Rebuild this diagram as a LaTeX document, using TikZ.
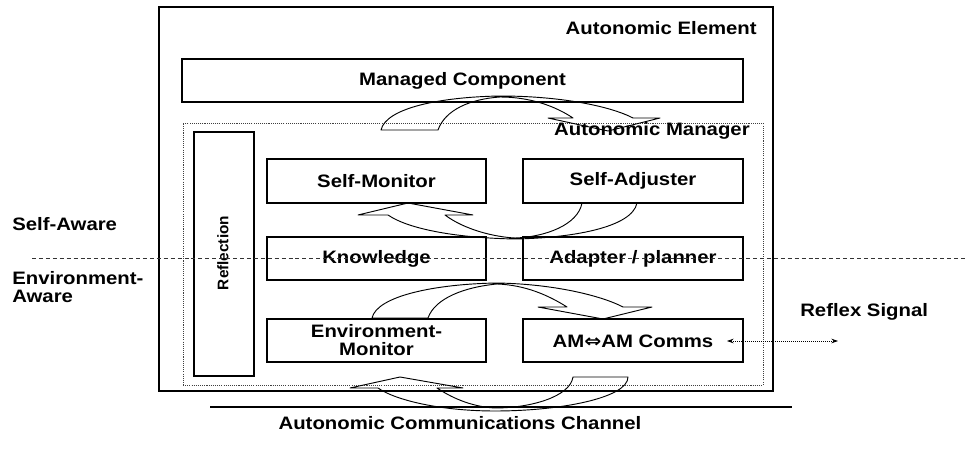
\documentclass[tikz,border=0pt]{standalone}
\usepackage{fontspec}
\setmainfont{Liberation Sans}
\newfontfamily\symfont{DejaVu Sans}
\usetikzlibrary{arrows.meta}
\begin{document}
\begin{tikzpicture}[x=0.75pt,y=-0.75pt,
  lbl/.style={font=\bfseries\fontsize{13.5}{13.5}\selectfont, inner sep=0pt, xscale=1.13},
  box/.style={draw=black, line width=1pt, inner sep=0pt, rectangle},
  dotbox/.style={draw=black!75, line width=0.6pt, dash pattern=on 0.8pt off 0.8pt, inner sep=0pt, rectangle},
  blockarrow/.style={draw=black, line width=0.7pt, line join=round},
  sepline/.style={draw=black!80, line width=0.7pt, dash pattern=on 3pt off 2.2pt},
  chline/.style={draw=black, line width=1pt},
  reflex/.style={draw=black, line width=0.6pt, dash pattern=on 0.9pt off 0.6pt, {Stealth[length=5pt,width=3.5pt]}-{Stealth[length=5pt,width=3.5pt]}}
]
\useasboundingbox (0,0) rectangle (972,449);
\fill[white] (0,0) rectangle (972,449);

% outer element
\node[box, minimum width=460.5pt, minimum height=288pt] (ae) at (466,199) {};
\node[lbl, anchor=east] (aet) at (757,28) {Autonomic Element};

% managed component
\node[box, minimum width=420.75pt, minimum height=32.25pt] (mc) at (462.5,80.5) {};
\node[lbl] (mct) at (mc.center) {Managed Component};

% autonomic manager
\node[dotbox, minimum width=435pt, minimum height=196.5pt] (am) at (473,254) {};
\node[lbl, anchor=east] (amt) at (750,131) {Autonomic Manager};

% reflection
\node[box, minimum width=45pt, minimum height=183pt] (rf) at (224,254) {};
\node[font=\bfseries\fontsize{11.5}{12}\selectfont, inner sep=0pt, rotate=90] (rft) at (223,253) {Reflection};

% inner boxes
\node[box, minimum width=164.25pt, minimum height=33pt] (sm) at (376.5,181) {};
\node[lbl] (smt) at (sm.center) {Self-Monitor};
\node[box, minimum width=165pt, minimum height=33pt] (sa) at (633,181) {};
\node[lbl] (sat) at (sa.center) {Self-Adjuster};
\node[box, minimum width=164.25pt, minimum height=32.25pt] (kn) at (376.5,258.5) {};
\node[lbl] (knt) at (kn.center) {Knowledge};
\node[box, minimum width=165pt, minimum height=32.25pt] (ap) at (633,258.5) {};
\node[lbl] (apt) at (ap.center) {Adapter / planner};
\node[box, minimum width=164.25pt, minimum height=32.25pt] (em) at (376.5,340.5) {};
\node[lbl, align=center] (emt) at (em.center) {Environment-\\Monitor};
\node[box, minimum width=165pt, minimum height=32.25pt] (cm) at (633,340.5) {};
\node[lbl] (cmt) at (633,341) {AM{\symfont\bfseries ⇔}AM Comms};

% side labels
\node[lbl, anchor=west] (saw) at (12,224) {Self-Aware};
\node[lbl, anchor=north west, align=left] (eaw) at (12,271) {Environment-\\Aware};
\node[lbl, anchor=west] (rs) at (800,312) {Reflex Signal};
\node[lbl] (cc) at (460,423) {Autonomic Communications Channel};

% separation line
\coordinate (dl) at (32,258);
\coordinate (dr) at (965,258);
\draw[sepline] (dl) -- (dr);

% channel line
\coordinate (chl) at (210,407);
\coordinate (chr) at (792,407);
\draw[chline] (chl) -- (chr);

% reflex arrow
\coordinate (rsl) at (727,341);
\coordinate (rsr) at (838,341);
\draw[reflex] (rsl) -- (rsr);

% curved block arrow: managed component <-> manager
\draw[blockarrow] (381,130) .. controls (386,108) and (440,97) .. (500,96)
  .. controls (560,96) and (610,106) .. (633,118)
  -- (660,118) -- (608,131) -- (548,118) -- (573,118)
  .. controls (555,106) and (530,97) .. (500,97)
  .. controls (470,99) and (445,110) .. (438,130) -- cycle;

% curved block arrow: self-adjuster -> self-monitor
\draw[blockarrow] (637,203) .. controls (632,228) and (570,238) .. (515,239)
  .. controls (460,238) and (410,230) .. (388,215)
  -- (358,215) -- (408,203) -- (473,215) -- (445,215)
  .. controls (465,230) and (495,237) .. (515,238)
  .. controls (545,237) and (578,225) .. (582,203) -- cycle;

% curved block arrow: environment-monitor -> comms
\draw[blockarrow] (372,318) .. controls (377,296) and (435,284) .. (497,283)
  .. controls (555,284) and (602,296) .. (623,307)
  -- (652,307) -- (603,319) -- (538,307) -- (567,307)
  .. controls (548,295) and (525,285) .. (497,284)
  .. controls (465,287) and (435,298) .. (428,318) -- cycle;

% curved block arrow: comms -> channel -> environment
\draw[blockarrow] (628,377) .. controls (628,398) and (560,411) .. (495,411)
  .. controls (440,411) and (395,400) .. (378,388)
  -- (350,388) -- (400,377) -- (463,388) -- (437,388)
  .. controls (455,400) and (475,407) .. (495,408)
  .. controls (530,408) and (570,397) .. (573,377) -- cycle;
\end{tikzpicture}
\end{document}
